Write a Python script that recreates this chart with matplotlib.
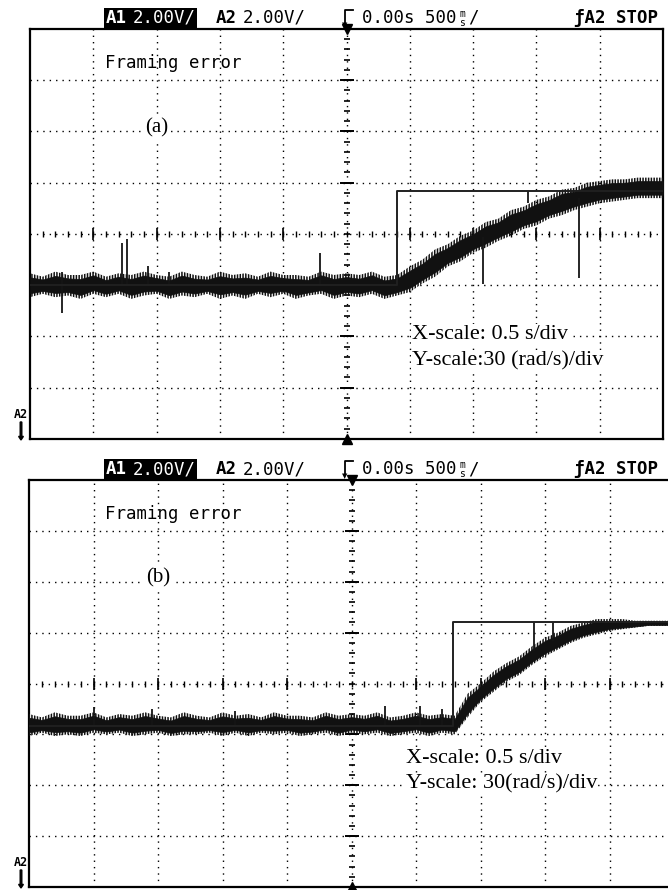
import matplotlib.pyplot as plt
from matplotlib.patches import Rectangle
from matplotlib.lines import Line2D

W, H = 668, 890
plt.rcParams['hatch.linewidth'] = 1.1

# time axis in s (0.5 s/div), speed in rad/s (30 (rad/s)/div)
grid_t = [-2.0, -1.5, -1.0, -0.5, 0.5, 1.0, 1.5, 2.0]
grid_y = [-90, -60, -30, 30, 60, 90]

# ---- trace (a): noisy band read as upper / lower envelope ----
t_a = [-2.5, -2.4, -2.3, -2.2, -2.1, -2.0, -1.9, -1.8, -1.7, -1.6, -1.5, -1.4, -1.3,
       -1.2, -1.1, -1.0, -0.9, -0.8, -0.7, -0.6, -0.5, -0.4, -0.3, -0.2, -0.1, 0.0,
       0.1, 0.2, 0.3, 0.4, 0.5, 0.6, 0.7, 0.8, 0.9, 1.0, 1.1, 1.2, 1.3, 1.4, 1.5,
       1.6, 1.7, 1.8, 1.9, 2.0, 2.1, 2.2, 2.3, 2.4, 2.5]
up_a = [-23, -25, -22, -24, -24, -22, -25, -23, -24, -22, -24, -25, -22, -24, -25,
        -22, -24, -23, -25, -22, -24, -24, -25, -22, -24, -23, -24, -22, -25, -24,
        -19, -15, -9, -6, -1, 2, 7, 9, 14, 16, 20, 22, 26, 27, 30, 31, 32, 32, 33, 33, 33]
lo_a = [-37, -35, -37, -36, -38, -35, -37, -35, -38, -36, -35, -38, -36, -37, -35,
        -38, -36, -38, -35, -37, -35, -38, -36, -35, -38, -36, -37, -35, -38, -36,
        -34, -29, -25, -19, -16, -11, -8, -4, -1, 3, 5, 9, 11, 14, 16, 18, 19, 20, 21, 21, 21]
step_a_t = [-2.5, 0.40, 0.40, 2.5]
step_a_y = [-30, -30, 25, 25]
spk_a_t = [-2.25, -1.77, -1.73, -1.57, -1.4, -0.21, 1.08, 1.43, 1.84]
spk_a_lo = [-46, -30, -30, -30, -30, -30, -29, 18, -26]
spk_a_hi = [-22, -5, -3, -19, -22, -11, -2, 25, 21]

# ---- trace (b) ----
t_b = [-2.5, -2.4, -2.3, -2.2, -2.1, -2.0, -1.9, -1.8, -1.7, -1.6, -1.5, -1.4, -1.3,
       -1.2, -1.1, -1.0, -0.9, -0.8, -0.7, -0.6, -0.5, -0.4, -0.3, -0.2, -0.1, 0.0,
       0.1, 0.2, 0.3, 0.4, 0.5, 0.6, 0.7, 0.8, 0.9, 1.0, 1.1, 1.2, 1.3, 1.4, 1.5,
       1.6, 1.7, 1.8, 1.9, 2.0, 2.1, 2.2, 2.3, 2.4, 2.5]
up_b = [-18, -20, -17, -19, -19, -17, -20, -18, -19, -17, -19, -20, -17, -19, -20,
        -17, -19, -18, -20, -17, -19, -19, -20, -17, -19, -18, -19, -17, -20, -19,
        -17, -19, -18, -19,
        -6, 0, 7, 12, 16, 22, 27, 30, 34, 36, 38, 38, 38, 37, 37, 37, 37]
lo_b = [-31, -29, -31, -30, -31, -29, -30, -29, -31, -30, -29, -31, -30, -30, -29,
        -31, -29, -31, -29, -30, -29, -31, -30, -29, -31, -29, -30, -29, -31, -30,
        -29, -31, -29, -30,
        -20, -11, -5, 1, 5, 11, 16, 20, 24, 27, 29, 31, 32, 33, 34, 34, 34]
step_b_t = [-2.5, 0.79, 0.79, 2.5]
step_b_y = [-25, -25, 36, 36]
spk_b_t = [-2.0, -1.55, -0.9, 0.26, 0.53, 0.70, 1.415, 1.562]
spk_b_lo = [-25, -25, -25, -25, -25, -25, 19, 25]
spk_b_hi = [-14, -15, -16, -13, -13, -15, 36, 36]

DOT = (0, (1, 3.6))


def px2fig(x, y):
    return x / W, 1 - y / H


def scope_panel(rect, t, up, lo, st, sy, kt, klo, khi, tag, scale_pos, xlab, ylab):
    ax = fig.add_axes(rect)
    ax.set_xlim(-2.5, 2.5)
    ax.set_ylim(-120, 120)
    for x in grid_t:
        ax.axvline(x, color='k', lw=1.0, ls=DOT, zorder=1)
    for y in grid_y:
        ax.axhline(y, color='k', lw=1.0, ls=DOT, zorder=1)
    # centre axes with minor ticks
    ax.axhline(0, color='k', lw=1.0, ls=DOT, zorder=1)
    ax.axvline(0, color='k', lw=1.0, ls=DOT, zorder=1)
    mt = [i * 0.1 for i in range(-24, 25)]
    my = [i * 6 for i in range(-19, 20)]
    ax.plot(mt, [0] * len(mt), '|', color='k', ms=4, mew=1.0, zorder=1)
    ax.plot([0] * len(my), my, '_', color='k', ms=5, mew=1.2, zorder=1)
    ax.plot(grid_t, [0] * len(grid_t), '|', color='k', ms=8, mew=1.2, zorder=1)
    ax.plot([0] * len(grid_y), grid_y, '_', color='k', ms=10, mew=1.4, zorder=1)
    ax.plot([0], [120], 'v', color='k', ms=7, clip_on=False, zorder=5)
    ax.plot([0], [-120], '^', color='k', ms=7, clip_on=False, zorder=5)

    # noisy trace: hatched outer envelope + solid core
    ax.fill_between(t, lo, up, facecolor='none', hatch='||||||', edgecolor='#111111',
                    lw=0, zorder=3)
    mid = [(a + b) / 2 for a, b in zip(lo, up)]
    half = [(b - a) / 3 for a, b in zip(lo, up)]
    ax.fill_between(t, [m - h for m, h in zip(mid, half)],
                    [m + h for m, h in zip(mid, half)], color='#111111', lw=0.5,
                    zorder=3)
    ax.vlines(kt, klo, khi, color='#151515', lw=1.3, zorder=3)
    ax.plot(st, sy, color='#202020', lw=1.4, zorder=4)

    ax.text(-1.91, 100, 'Framing error', family='DejaVu Sans Mono', fontsize=12.5,
            va='center', ha='left', zorder=6)
    ax.text(-1.50, 62, tag, family='Liberation Serif', fontsize=15, va='center',
            ha='center', zorder=6,
            bbox=dict(boxstyle='square,pad=0.15', fc='white', ec='none'))
    sx, sy1, sy2 = scale_pos
    for yy, s in ((sy1, xlab), (sy2, ylab)):
        ax.text(sx, yy, s, family='Liberation Serif', fontsize=16, va='center',
                ha='left', zorder=6,
                bbox=dict(boxstyle='square,pad=0.05', fc='white', ec='none'))
    for sp in ax.spines.values():
        sp.set_linewidth(1.6)
    ax.set_xticks([])
    ax.set_yticks([])
    return ax


def header(top):
    yc = top - 11
    x0, y0 = px2fig(104, top - 1)
    fig.patches.append(Rectangle((x0, y0), 93 / W, 20 / H, transform=fig.transFigure,
                                 fc='black', ec='none'))
    kw = dict(family='DejaVu Sans Mono', fontsize=12.5, va='center', ha='left')
    fig.text(*px2fig(106, yc), 'A1', color='white', weight='bold', **kw)
    fig.text(*px2fig(133, yc), '2.00V/', color='white', **kw)
    fig.text(*px2fig(216, yc), 'A2', weight='bold', **kw)
    fig.text(*px2fig(243, yc), '2.00V/', **kw)
    # trigger marker
    xa, ya = px2fig(345, top - 19)
    xb, yb = px2fig(345, top - 6)
    xc, _ = px2fig(353, top - 19)
    fig.lines.append(Line2D([xc, xa, xb], [ya, ya, yb], transform=fig.transFigure,
                            color='k', lw=1.3))
    fig.text(*px2fig(345, top - 4), '▼', fontsize=5, ha='center', va='center')
    fig.text(*px2fig(362, yc), '0.00s 500', **kw)
    fig.text(*px2fig(462, yc - 4), 'm', fontsize=7, ha='center', va='center',
             family='DejaVu Sans Mono')
    fig.text(*px2fig(462, yc + 5), 's', fontsize=7, ha='center', va='center',
             family='DejaVu Sans Mono')
    fig.text(*px2fig(468, yc), '/', **kw)
    fig.text(*px2fig(574, yc), 'ƒA2 STOP', weight='bold', **kw)


def a2_marker(bottom):
    fig.text(*px2fig(21, bottom - 24), 'A2', family='DejaVu Sans Mono', fontsize=8.5,
             ha='center', va='center', weight='bold')
    fig.patches.append(plt.Arrow(21 / W, 1 - (bottom - 17) / H, 0, -18 / H, width=0.012,
                                 transform=fig.transFigure, color='k'))


fig = plt.figure(figsize=(W / 100, H / 100), dpi=100)

scope_panel([30 / W, 1 - 439 / H, 633 / W, 410 / H], t_a, up_a, lo_a, step_a_t, step_a_y,
            spk_a_t, spk_a_lo, spk_a_hi, '(a)', (0.52, -59, -74),
            'X-scale: 0.5 s/div', 'Y-scale:30 (rad/s)/div')
scope_panel([29 / W, 1 - 887 / H, 645 / W, 407 / H], t_b, up_b, lo_b, step_b_t, step_b_y,
            spk_b_t, spk_b_lo, spk_b_hi, '(b)', (0.42, -44, -59),
            'X-scale: 0.5 s/div', 'Y-scale: 30(rad/s)/div')
header(29)
header(480)
a2_marker(439)
a2_marker(887)

fig.savefig('out.png', dpi=100)
